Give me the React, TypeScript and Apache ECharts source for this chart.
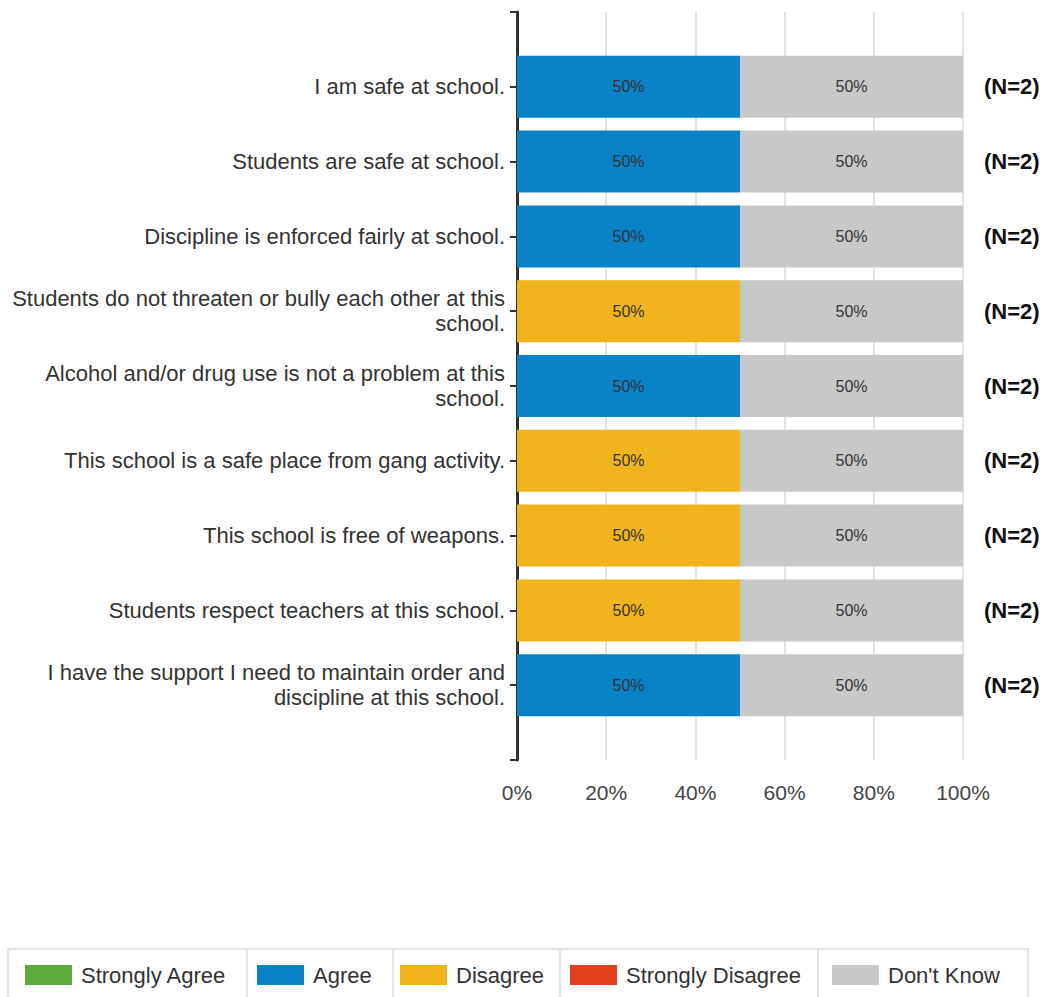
import React, { useEffect, useRef } from "react";
import * as echarts from "echarts";

const categories = [
  "I am safe at school.",
  "Students are safe at school.",
  "Discipline is enforced fairly at school.",
  "Students do not threaten or bully each other at this\nschool.",
  "Alcohol and/or drug use is not a problem at this\nschool.",
  "This school is a safe place from gang activity.",
  "This school is free of weapons.",
  "Students respect teachers at this school.",
  "I have the support I need to maintain order and\ndiscipline at this school.",
];
const stronglyAgree = [0, 0, 0, 0, 0, 0, 0, 0, 0];
const agree = [50, 50, 50, 0, 50, 0, 0, 0, 50];
const disagree = [0, 0, 0, 50, 0, 50, 50, 50, 0];
const stronglyDisagree = [0, 0, 0, 0, 0, 0, 0, 0, 0];
const dontKnow = [50, 50, 50, 50, 50, 50, 50, 50, 50];
const nCounts = [2, 2, 2, 2, 2, 2, 2, 2, 2];
const xTicks = [0, 20, 40, 60, 80, 100];

const seriesNames = ["Strongly Agree", "Agree", "Disagree", "Strongly Disagree", "Don't Know"];
const seriesColors = ["#5aaa3c", "#0a82c8", "#f0b41c", "#e0401e", "#c8c8c8"];
const seriesValues = [stronglyAgree, agree, disagree, stronglyDisagree, dontKnow];
const legendLeft = [25, 257, 400, 570, 832];
const legendSeparators = [247, 393, 560, 818];

const FONT = "'Liberation Sans', Arial, sans-serif";

export default function App() {
  const ref = useRef<HTMLDivElement>(null);
  useEffect(() => {
    if (!ref.current) return;
    const chart = echarts.init(ref.current, undefined, { renderer: "svg" });
    const axisCats = ["", ...categories, ""];
    const option: any = {
      animation: false,
      textStyle: { fontFamily: FONT },
      grid: { left: 517, right: 84, top: 12, bottom: 237, containLabel: false },
      xAxis: {
        type: "value",
        min: 0,
        max: 100,
        interval: 20,
        axisLine: { show: false },
        axisTick: { show: false },
        splitLine: { show: true, lineStyle: { color: "#d9d9d9", width: 1.5 } },
        axisLabel: {
          formatter: (v: number) => (xTicks.includes(v) ? v + "%" : ""),
          color: "#444",
          fontSize: 21,
          fontFamily: FONT,
          margin: 22,
        },
      },
      yAxis: [
        {
          type: "category",
          data: axisCats,
          inverse: true,
          boundaryGap: false,
          axisLine: { show: true, lineStyle: { color: "#333", width: 3 } },
          axisTick: { show: true, length: 7, lineStyle: { color: "#333", width: 2 } },
          splitLine: { show: false },
          axisLabel: {
            interval: 0,
            color: "#333",
            fontSize: 22,
            lineHeight: 25,
            fontFamily: FONT,
            margin: 12,
            align: "right",
          },
        },
        {
          type: "category",
          data: axisCats,
          inverse: true,
          boundaryGap: false,
          position: "right",
          axisLine: { show: false },
          axisTick: { show: false },
          splitLine: { show: false },
          axisLabel: {
            interval: 0,
            color: "#111",
            fontSize: 22,
            fontWeight: "bold",
            fontFamily: FONT,
            margin: 21,
            formatter: (_v: string, idx: number) =>
              idx >= 1 && idx <= nCounts.length ? "(N=" + nCounts[idx - 1] + ")" : "",
            padding: [12, 0, 0, 0],
          },
        },
      ],
      legend: seriesNames.map((name, i) => ({
        data: [name],
        left: legendLeft[i],
        top: 964,
        itemWidth: 47,
        itemHeight: 20,
        itemGap: 0,
        padding: 0,
        icon: "rect",
        selectedMode: false,
        textStyle: { fontSize: 22, color: "#333", fontFamily: FONT, padding: [0, 0, 0, 4] },
      })),
      graphic: [
        {
          type: "rect",
          shape: { x: 8, y: 949, width: 1020, height: 60 },
          style: { fill: "none", stroke: "#dcdcdc", lineWidth: 1.5 },
          silent: true,
        },
        ...legendSeparators.map((x) => ({
          type: "line",
          shape: { x1: x, y1: 949, x2: x, y2: 1000 },
          style: { stroke: "#dcdcdc", lineWidth: 1.5 },
          silent: true,
        })),
      ],
      series: seriesNames.map((name, i) => ({
        name,
        type: "bar",
        stack: "total",
        yAxisIndex: 0,
        barWidth: 62,
        itemStyle: { color: seriesColors[i] },
        label: {
          show: true,
          position: "inside",
          color: "#333",
          fontSize: 16,
          fontFamily: FONT,
          formatter: (p: any) => (p.value ? p.value + "%" : ""),
        },
        data: ["-", ...seriesValues[i].map((v) => (v ? v : "-")), "-"],
      })),
    };
    chart.setOption(option);
    return () => chart.dispose();
  }, []);
  return (
    <div
      ref={ref}
      style={{ position: "fixed", left: 0, top: 0, width: 1047, height: 997, background: "#fff" }}
    />
  );
}
